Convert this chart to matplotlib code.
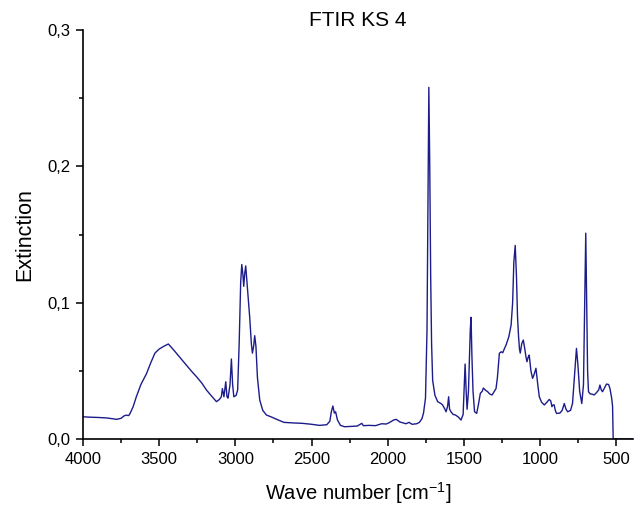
import numpy as np
import matplotlib
matplotlib.use("Agg")
import matplotlib.pyplot as plt
from matplotlib.ticker import MultipleLocator, FuncFormatter

plt.rcParams['font.family'] = ['Liberation Sans', 'DejaVu Sans']

# FTIR spectrum, wave number [cm-1] and extinction
wavenumber = [
    4000, 3950, 3900, 3850, 3800, 3780, 3750, 3730, 3715, 3700, 3690, 3670,
    3650, 3620, 3583, 3555, 3528, 3500, 3470, 3440, 3410, 3380, 3350, 3320,
    3290, 3255, 3220, 3190, 3160, 3124, 3105, 3092, 3085, 3075, 3063, 3055,
    3048, 3035, 3026, 3018, 3010, 2995, 2985, 2975, 2965, 2958, 2950, 2945,
    2938, 2932, 2920, 2905, 2895, 2888, 2880, 2873, 2865, 2855, 2840, 2820,
    2796, 2760, 2720, 2680, 2620, 2560, 2500, 2447, 2400, 2380, 2370, 2360,
    2350, 2342, 2330, 2310, 2283, 2250, 2200, 2170, 2160, 2120, 2080, 2040,
    2010, 1990, 1960, 1944, 1920, 1880, 1860, 1840, 1810, 1792, 1775, 1765,
    1752, 1742, 1736, 1730, 1724, 1718, 1712, 1705, 1690, 1672, 1650, 1640,
    1625, 1617, 1607, 1600, 1594, 1585, 1570, 1555, 1535, 1519, 1505, 1497,
    1492, 1485, 1479, 1470, 1463, 1458, 1453, 1447, 1440, 1430, 1416, 1405,
    1392, 1380, 1372, 1360, 1344, 1330, 1315, 1300, 1289, 1280, 1267, 1255,
    1245, 1235, 1223, 1205, 1190, 1180, 1172, 1163, 1155, 1148, 1141, 1135,
    1130, 1120, 1110, 1100, 1092, 1086, 1078, 1071, 1060, 1049, 1040, 1027,
    1015, 1005, 990, 972, 955, 940, 930, 922, 915, 907, 900, 892,
    870, 855, 841, 830, 819, 800, 787, 775, 761, 752, 740, 726,
    715, 707, 700, 694, 688, 682, 670, 660, 645, 630, 615, 607,
    598, 590, 575, 564, 550, 541, 530, 524, 520, 390,
]
extinction = [
    0.0163, 0.0160, 0.0158, 0.0155, 0.0148, 0.0144, 0.0152, 0.0170, 0.0175, 0.0172, 0.0190, 0.0240,
    0.0310, 0.0400, 0.0480, 0.0560, 0.0630, 0.0660, 0.0680, 0.0697, 0.0660, 0.0620, 0.0580, 0.0540,
    0.0500, 0.0457, 0.0410, 0.0360, 0.0320, 0.0274, 0.0290, 0.0310, 0.0370, 0.0310, 0.0420, 0.0310,
    0.0300, 0.0400, 0.0587, 0.0400, 0.0310, 0.0320, 0.0360, 0.0700, 0.1150, 0.1280, 0.1200, 0.1120,
    0.1220, 0.1270, 0.1100, 0.0880, 0.0700, 0.0630, 0.0680, 0.0758, 0.0680, 0.0450, 0.0286, 0.0210,
    0.0176, 0.0160, 0.0140, 0.0122, 0.0118, 0.0115, 0.0108, 0.0100, 0.0105, 0.0130, 0.0200, 0.0242,
    0.0190, 0.0200, 0.0140, 0.0100, 0.0090, 0.0092, 0.0095, 0.0115, 0.0098, 0.0100, 0.0098, 0.0112,
    0.0110, 0.0120, 0.0140, 0.0144, 0.0125, 0.0112, 0.0122, 0.0108, 0.0112, 0.0122, 0.0150, 0.0190,
    0.0300, 0.0800, 0.1700, 0.2580, 0.2000, 0.1200, 0.0700, 0.0430, 0.0320, 0.0274, 0.0260, 0.0250,
    0.0220, 0.0200, 0.0240, 0.0310, 0.0220, 0.0200, 0.0180, 0.0176, 0.0160, 0.0139, 0.0180, 0.0400,
    0.0550, 0.0350, 0.0218, 0.0350, 0.0600, 0.0800, 0.0893, 0.0600, 0.0350, 0.0200, 0.0188, 0.0250,
    0.0335, 0.0350, 0.0374, 0.0360, 0.0347, 0.0330, 0.0323, 0.0350, 0.0370, 0.0450, 0.0629, 0.0640,
    0.0633, 0.0660, 0.0690, 0.0750, 0.0836, 0.1000, 0.1300, 0.1420, 0.1200, 0.0900, 0.0750, 0.0660,
    0.0630, 0.0700, 0.0726, 0.0660, 0.0600, 0.0567, 0.0600, 0.0616, 0.0500, 0.0445, 0.0470, 0.0519,
    0.0400, 0.0310, 0.0270, 0.0250, 0.0270, 0.0290, 0.0280, 0.0237, 0.0250, 0.0250, 0.0210, 0.0188,
    0.0190, 0.0210, 0.0260, 0.0220, 0.0200, 0.0210, 0.0260, 0.0450, 0.0665, 0.0550, 0.0350, 0.0260,
    0.0400, 0.1000, 0.1510, 0.1000, 0.0500, 0.0347, 0.0330, 0.0330, 0.0323, 0.0340, 0.0360, 0.0396,
    0.0360, 0.0347, 0.0380, 0.0403, 0.0400, 0.0370, 0.0300, 0.0240, 0.0000, 0.0000,
]

fig = plt.figure(figsize=(6.41, 5.08), dpi=100)
ax = fig.add_axes([0.1295, 0.1358, 0.858, 0.805])

ax.plot(wavenumber, extinction, color='#1c1c8a', linewidth=1.0)

ax.set_xlim(4000, 390)
ax.set_ylim(0, 0.3)

ax.xaxis.set_major_locator(MultipleLocator(500))
ax.xaxis.set_minor_locator(MultipleLocator(250))
ax.yaxis.set_major_locator(MultipleLocator(0.1))
ax.yaxis.set_minor_locator(MultipleLocator(0.05))
ax.yaxis.set_major_formatter(FuncFormatter(lambda v, p: f"{v:.1f}".replace('.', ',')))

for side in ('top', 'right'):
    ax.spines[side].set_visible(False)
for side in ('left', 'bottom'):
    ax.spines[side].set_linewidth(1.2)

ax.tick_params(which='major', direction='out', length=5, width=1.1, labelsize=12, pad=4)
ax.tick_params(which='minor', direction='out', length=3, width=1.1)

ax.set_title("FTIR KS 4", fontsize=15, pad=2)
ax.set_xlabel(r"Wave number [cm$^{\mathregular{-1}}$]", fontsize=14.5, labelpad=10)
ax.set_ylabel("Extinction", fontsize=15.5, labelpad=9)

fig.savefig("out.png", dpi=100)
